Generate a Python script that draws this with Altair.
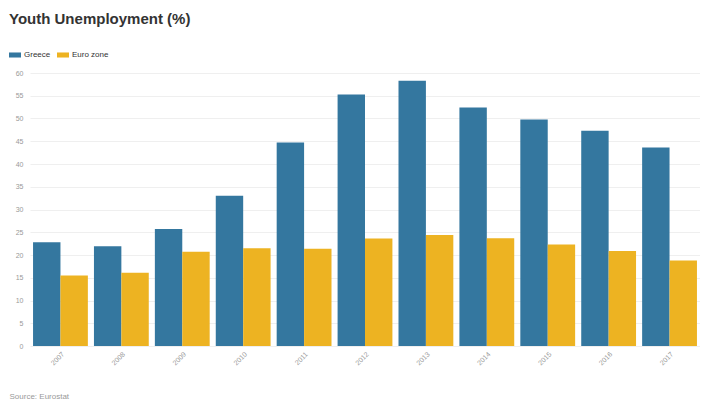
import altair as alt
import pandas as pd

years = ["2007", "2008", "2009", "2010", "2011", "2012", "2013", "2014", "2015", "2016", "2017"]
greece = [22.8, 21.9, 25.7, 33.0, 44.7, 55.3, 58.3, 52.4, 49.8, 47.3, 43.6]
euro = [15.5, 16.1, 20.7, 21.5, 21.4, 23.6, 24.4, 23.7, 22.3, 20.9, 18.8]
series = ["Greece", "Euro zone"]
colors = ["#34779f", "#edb322"]

rows = []
for i, y in enumerate(years):
    rows.append({"year": y, "series": "Greece", "value": greece[i]})
    rows.append({"year": y, "series": "Euro zone", "value": euro[i]})
df = pd.DataFrame(rows)

FONT = "Liberation Sans"

chart = alt.Chart(df).mark_bar().encode(
    x=alt.X("year:N", sort=years,
            scale=alt.Scale(paddingInner=0.1, paddingOuter=0.05),
            axis=alt.Axis(title="Source: Eurostat", labelAngle=-45, labelFontSize=7,
                          labelColor="#999999", labelFont=FONT, ticks=False, domain=False,
                          labelPadding=4,
                          titleFont=FONT, titleFontSize=8, titleFontWeight="normal",
                          titleColor="#999999", titleAnchor="start", titleAlign="left",
                          titleX=-21, titleY=52, titleBaseline="alphabetic")),
    xOffset=alt.XOffset("series:N", sort=series),
    y=alt.Y("value:Q", scale=alt.Scale(domain=[0, 60], nice=False),
            axis=alt.Axis(title=None, values=list(range(0, 61, 5)), labelFontSize=7,
                          labelColor="#999999", labelFont=FONT, ticks=False, domain=False,
                          labelPadding=7, gridColor="#efefef", gridWidth=1)),
    color=alt.Color("series:N", sort=series,
                    scale=alt.Scale(domain=series, range=colors),
                    legend=alt.Legend(title=None, orient="none", legendX=-21, legendY=-24,
                                      direction="horizontal",
                                      symbolType="M-1,-0.42H1V0.42H-1Z", symbolSize=144,
                                      symbolStrokeWidth=0, symbolOpacity=1,
                                      labelFont=FONT, labelFontSize=8, labelColor="#333333",
                                      columnPadding=6, labelOffset=3)),
).properties(
    width=670, height=273,
    title=alt.TitleParams("Youth Unemployment (%)", anchor="start", font=FONT,
                          fontSize=15, fontWeight="bold", color="#333333",
                          frame="group", dx=-21, offset=22),
    autosize=alt.AutoSizeParams(type="none"),
    padding={"left": 22, "top": 65, "right": 0, "bottom": 54},
).configure(background="white").configure_view(stroke=None)

chart.save("out.html", embed_options={"renderer": "svg", "actions": False})
